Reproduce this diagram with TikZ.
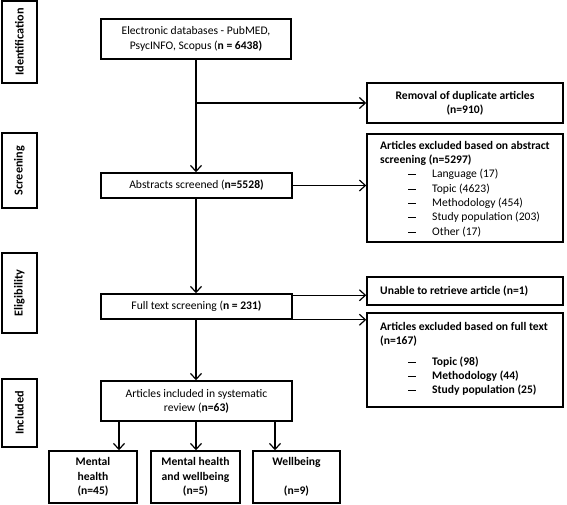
\documentclass[tikz,border=0pt]{standalone}
\usepackage{fontspec}
\setmainfont{Carlito}
\usetikzlibrary{arrows.meta}
\begin{document}
\begin{tikzpicture}[x=1pt,y=-1pt,
  box/.style={draw, line width=1.5pt, inner sep=0pt, align=center, font=\fontsize{11.6}{14.3}\selectfont},
  side/.style={box, minimum width=35pt},
  sidetxt/.style={rotate=90, font=\fontsize{12.2}{13}\selectfont\bfseries, inner sep=0pt},
  txt/.style={inner sep=0pt, align=left, font=\fontsize{11.6}{14.3}\selectfont},
  arr/.style={-{Straight Barb[length=6pt,width=11pt]}, line width=1.2pt}]
\useasboundingbox (0,0) rectangle (567,504);
\newcommand{\itemdash}[1]{\hspace*{28pt}\rule[2.6pt]{8pt}{1pt}\hspace{16pt}#1}
% side labels
\node[side, minimum height=82pt] (sid) at (19.5,42) {};
\node[sidetxt] at (sid) {Identification};
\node[side, minimum height=75pt] (ssc) at (19.5,170.5) {};
\node[sidetxt] at (ssc) {Screening};
\node[side, minimum height=80pt] (sel) at (19.5,293) {};
\node[sidetxt] at (sel) {Eligibility};
\node[side, minimum height=68pt] (sin) at (19.5,413) {};
\node[sidetxt] at (sin) {Included};
% main column
\node[box, minimum width=190pt, minimum height=40pt] (elec) at (196,39)
  {Electronic databases - PubMED,\\PsycINFO, Scopus (\textbf{n = 6438)}};
\node[box, minimum width=191pt, minimum height=25pt] (abs) at (196.5,185.5)
  {Abstracts screened (\textbf{n=5528)}};
\node[box, minimum width=191pt, minimum height=25pt] (full) at (196.5,306.5)
  {Full text screening (\textbf{n = 231)}};
\node[box, minimum width=191pt, minimum height=40pt] (incl) at (196.5,401)
  {Articles included in systematic\\review (\textbf{n=63)}};
% right column
\node[box, minimum width=196pt, minimum height=40pt, font=\fontsize{11.6}{14.3}\selectfont\bfseries] (rem) at (465,103)
  {Removal of duplicate articles\\(n=910)};
\node[box, minimum width=196pt, minimum height=108pt] (absx) at (465,188) {};
\node[txt, anchor=west] at (380,189) {\textbf{Articles excluded based on abstract}\\
  \textbf{screening (n=5297)}\\
  \itemdash{Language (17)}\\
  \itemdash{Topic (4623)}\\
  \itemdash{Methodology (454)}\\
  \itemdash{Study population (203)}\\
  \itemdash{Other (17)}};
\node[box, minimum width=196pt, minimum height=28pt] (unab) at (465,291) {};
\node[txt, anchor=west, font=\fontsize{11.6}{14.3}\selectfont\bfseries] at (380,291) {Unable to retrieve article (n=1)};
\node[box, minimum width=196pt, minimum height=94pt] (fullx) at (465,360) {};
\node[txt, anchor=west, font=\fontsize{11.6}{14.3}\selectfont\bfseries] at (380,359) {Articles excluded based on full text\\
  (n=167)\\[6pt]
  \itemdash{Topic (98)}\\
  \itemdash{Methodology (44)}\\
  \itemdash{Study population (25)}};
% bottom
\node[box, minimum width=88pt, minimum height=52pt, font=\fontsize{11.6}{14.3}\selectfont\bfseries] (mh) at (93,477)
  {Mental\\health\\(n=45)};
\node[box, minimum width=89pt, minimum height=52pt, font=\fontsize{11.6}{14.3}\selectfont\bfseries] (mhw) at (195.5,477)
  {Mental health\\and wellbeing\\(n=5)};
\node[box, minimum width=87pt, minimum height=52pt, font=\fontsize{11.6}{14.3}\selectfont\bfseries] (wb) at (296.5,477)
  {Wellbeing\\\mbox{}\\(n=9)};
% connectors
\coordinate (br) at (elec.south |- rem.west);
\draw[arr] (elec.south) -- (elec.south |- abs.north);
\draw[arr] (br) -- (rem.west);
\draw[arr] (abs.east) -- (abs.east -| absx.west);
\draw[arr] (abs.south -| elec.south) -- (elec.south |- full.north);
\draw[arr] ([yshift=-2pt]full.north east) -- ([yshift=-2pt]full.north east -| unab.west);
\draw[arr] (full.south east) -- (full.south east -| fullx.west);
\draw[arr] (full.south -| elec.south) -- (elec.south |- incl.north);
\draw[arr] ([xshift=-77.5pt]incl.south) -- ([xshift=26pt]mh.north);
\draw[arr] ([xshift=-0.5pt]incl.south) -- ([xshift=0.5pt]mhw.north);
\draw[arr] ([xshift=78.5pt]incl.south) -- ([xshift=-21.5pt]wb.north);
\end{tikzpicture}
\end{document}
